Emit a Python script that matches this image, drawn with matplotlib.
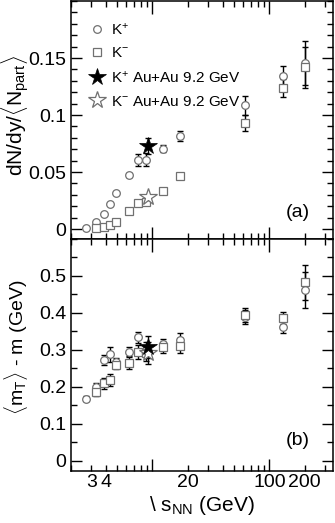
import numpy as np
import matplotlib
matplotlib.use('Agg')
import matplotlib.pyplot as plt
from matplotlib.ticker import FixedLocator, FixedFormatter, MultipleLocator, FuncFormatter
from matplotlib.lines import Line2D

plt.rcParams['font.family'] = ['Liberation Sans', 'DejaVu Sans']
plt.rcParams['mathtext.fontset'] = 'custom'
plt.rcParams['mathtext.rm'] = 'Liberation Sans'
plt.rcParams['mathtext.it'] = 'Liberation Sans:italic'

# sqrt(s_NN) in GeV
sqrt_s = [2.7, 3.32, 3.84, 4.3, 4.86, 6.3, 7.6, 8.8, 12.3, 17.3, 62.4, 130, 200]
sqrt_s_km = sqrt_s[1:]

# dN/dy/<Npart>
kp_yield = [0.0009, 0.0064, 0.0131, 0.0219, 0.0318, 0.0472, 0.0606, 0.0608,
            0.0705, 0.0819, 0.1084, 0.1343, 0.1457]
kp_yield_err = [0.0005, 0.0005, 0.0008, 0.001, 0.001, 0.0015, 0.005, 0.0055,
                0.003, 0.0045, 0.0085, 0.009, 0.019]
km_yield = [0.0006, 0.0015, 0.0032, 0.0064, 0.016, 0.0227, 0.0233, 0.0335,
            0.0463, 0.0933, 0.1238, 0.1419]
km_yield_err = [0.0003, 0.0003, 0.0004, 0.0005, 0.0007, 0.0008, 0.0008, 0.0012,
                0.0015, 0.007, 0.0082, 0.018]

# <mT> - m (GeV)
kp_mt = [0.168, 0.198, 0.272, 0.2875, 0.266, 0.293, 0.333, 0.300, 0.315, 0.326,
         0.388, 0.361, 0.461]
kp_mt_err = [0.008, 0.012, 0.014, 0.02, 0.012, 0.014, 0.016, 0.02, 0.014, 0.018,
             0.018, 0.017, 0.048]
km_mt = [0.186, 0.209, 0.218, 0.259, 0.265, 0.294, 0.290, 0.306, 0.311, 0.394,
         0.386, 0.482]
km_mt_err = [0.012, 0.014, 0.016, 0.012, 0.017, 0.019, 0.02, 0.016, 0.02, 0.018,
             0.016, 0.048]

# STAR Au+Au 9.2 GeV
star_s = 9.2
star_kp_yield, star_kp_yield_err = 0.0728, 0.007
star_km_yield, star_km_yield_err = 0.0277, 0.002
star_kp_mt, star_kp_mt_err = 0.308, 0.03
star_km_mt, star_km_mt_err = 0.290, 0.03

gray = '#707070'

fig = plt.figure(figsize=(3.35, 5.23), dpi=100)
ax_a = fig.add_axes([0.211, 0.5436, 0.783, 0.4544])
ax_b = fig.add_axes([0.211, 0.0994, 0.783, 0.4442], sharex=ax_a)


def draw_points(ax, kp, kp_err, km, km_err, skp, skp_err, skm, skm_err):
    ax.errorbar(sqrt_s, kp, yerr=kp_err, fmt='none', ecolor='black',
                elinewidth=1.0, capsize=2, capthick=1.0, zorder=2)
    ax.errorbar(sqrt_s_km, km, yerr=km_err, fmt='none', ecolor='black',
                elinewidth=1.0, capsize=2, capthick=1.0, zorder=2)
    ax.plot(sqrt_s, kp, 'o', ms=5.5, mfc='white', mec=gray, mew=0.9, zorder=3)
    ax.plot(sqrt_s_km, km, 's', ms=5.5, mfc='white', mec=gray, mew=0.9, zorder=3)
    ax.errorbar([star_s], [skp], yerr=[skp_err], fmt='none', ecolor='black',
                elinewidth=1.0, capsize=2, capthick=1.0, zorder=4)
    ax.errorbar([star_s], [skm], yerr=[skm_err], fmt='none', ecolor='black',
                elinewidth=1.0, capsize=2, capthick=1.0, zorder=4)
    ax.plot([star_s], [skm], '*', ms=13, mfc='white', mec=gray, mew=0.9, zorder=5)
    ax.plot([star_s], [skp], '*', ms=13, mfc='black', mec='black', mew=0.5, zorder=6)


draw_points(ax_a, kp_yield, kp_yield_err, km_yield, km_yield_err,
            star_kp_yield, star_kp_yield_err, star_km_yield, star_km_yield_err)
draw_points(ax_b, kp_mt, kp_mt_err, km_mt, km_mt_err,
            star_kp_mt, star_kp_mt_err, star_km_mt, star_km_mt_err)

ax_a.set_xscale('log')
ax_a.set_xlim(2.0, 350)
ax_a.set_ylim(-0.0085, 0.2)
ax_b.set_ylim(-0.028, 0.6)

fmt = FuncFormatter(lambda v, p: '0' if abs(v) < 1e-9 else ('%g' % v))
ax_a.yaxis.set_major_locator(FixedLocator([0, 0.05, 0.1, 0.15]))
ax_a.yaxis.set_minor_locator(MultipleLocator(0.01))
ax_a.yaxis.set_major_formatter(fmt)
ax_b.yaxis.set_major_locator(FixedLocator([0, 0.1, 0.2, 0.3, 0.4, 0.5]))
ax_b.yaxis.set_minor_locator(MultipleLocator(0.05))
ax_b.yaxis.set_major_formatter(fmt)

minor_x = [m * 10 ** e for e in range(0, 3) for m in range(2, 10)]
for ax in (ax_a, ax_b):
    ax.xaxis.set_major_locator(FixedLocator([10, 100]))
    ax.xaxis.set_minor_locator(FixedLocator(minor_x))
    ax.tick_params(which='both', direction='in', top=True, right=True, width=1.0)
    ax.tick_params(axis='y', which='major', length=8, labelsize=14, pad=3)
    ax.tick_params(axis='y', which='minor', length=4.5)
    ax.tick_params(axis='x', which='major', length=9, labelsize=14, pad=2)
    ax.tick_params(axis='x', which='minor', length=4, labelsize=14, pad=2)
    for sp in ax.spines.values():
        sp.set_linewidth(1.1)

ax_b.xaxis.set_major_formatter(FixedFormatter(['', '100']))
ax_b.xaxis.set_minor_formatter(FuncFormatter(
    lambda v, p: '%d' % round(v) if round(v) in (3, 4, 20, 200) else ''))
plt.setp(ax_a.get_xticklabels(which='both'), visible=False)

ax_a.set_ylabel(r'dN/dy/$\langle$N$_{\rm part}\rangle$', fontsize=15)
ax_b.set_ylabel(r'$\langle$m$_{\rm T}\rangle$ - m (GeV)', fontsize=14)
ax_a.yaxis.set_label_coords(-0.15, 0.518)
ax_b.yaxis.set_label_coords(-0.155, 0.534)
ax_b.set_xlabel(r'\ s$_{\rm NN}$ (GeV)', fontsize=15, labelpad=2)

ax_a.text(0.865, 0.11, '(a)', transform=ax_a.transAxes, fontsize=14,
          ha='center', va='center')
ax_b.text(0.865, 0.13, '(b)', transform=ax_b.transAxes, fontsize=14,
          ha='center', va='center')

handles = [
    Line2D([], [], ls='none', marker='o', ms=5.5, mfc='white', mec=gray, mew=0.9),
    Line2D([], [], ls='none', marker='s', ms=5.5, mfc='white', mec=gray, mew=0.9),
    Line2D([], [], ls='none', marker='*', ms=13, mfc='black', mec='black', mew=0.5),
    Line2D([], [], ls='none', marker='*', ms=13, mfc='white', mec=gray, mew=0.9),
]
labels = [r'K$^{+}$', r'K$^{-}$', r'K$^{+}$ Au+Au 9.2 GeV', r'K$^{-}$ Au+Au 9.2 GeV']
ax_a.legend(handles, labels, loc='upper left', bbox_to_anchor=(0.03, 0.96),
            frameon=False, fontsize=11, handlelength=1.0, handletextpad=0.4,
            labelspacing=0.6, borderaxespad=0.3)

fig.savefig('out.png', dpi=100)
